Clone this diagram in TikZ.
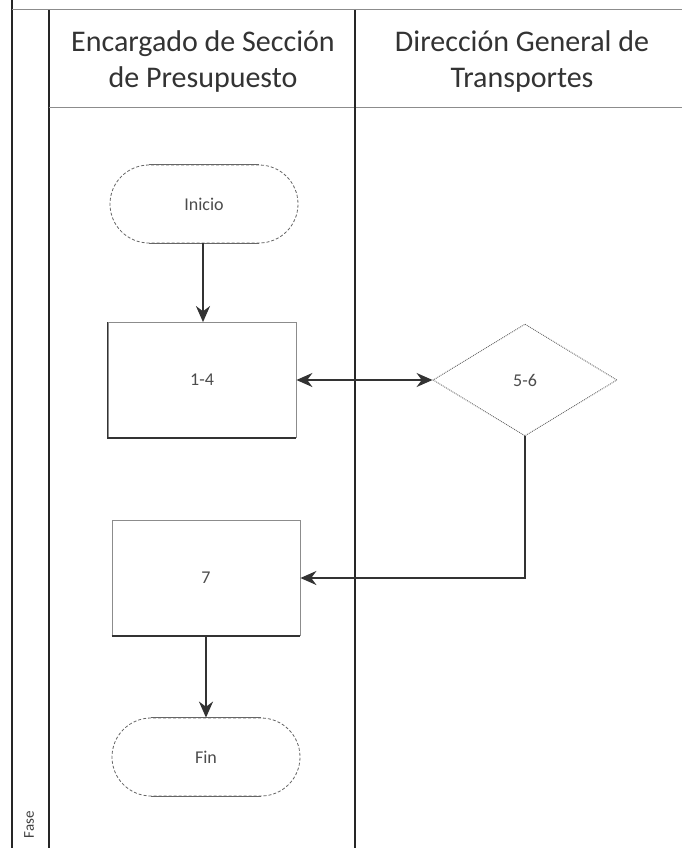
\documentclass[tikz,border=0pt]{standalone}
\usepackage{fontspec}
\setmainfont{Carlito}
\usetikzlibrary{shapes.geometric,arrows.meta}
\begin{document}
\begin{tikzpicture}[x=1pt,y=-1pt,
  lane/.style={line width=1.4pt,black!85},
  hline/.style={line width=1pt,black!45},
  terminal/.style={rectangle,rounded corners=39pt,minimum width=188pt,minimum height=78pt,inner sep=0pt,draw=black!60,densely dashed,line width=0.8pt,font=\fontsize{18}{21}\selectfont,text=black!70},
  procbox/.style={rectangle,minimum width=188pt,minimum height=115pt,inner sep=0pt,draw=black!45,line width=0.8pt,font=\fontsize{18}{21}\selectfont,text=black!70},
  decision/.style={diamond,minimum width=184pt,minimum height=112pt,aspect=1.64,inner sep=0pt,draw=black!60,densely dotted,line width=0.9pt,font=\fontsize{18}{21}\selectfont,text=black!70},
  header/.style={align=center,font=\fontsize{30}{36}\selectfont,text=black!80},
  flow/.style={line width=1.7pt,black!80,-{Stealth[length=16pt,width=14pt]}},
  solidedge/.style={line width=0.9pt,black!60},
  darkedge/.style={line width=1.5pt,black!80}
]
\useasboundingbox (0,0) rectangle (682,848);
\fill[white] (0,0) rectangle (682,848);
% lanes
\draw[lane] (12,0) -- (12,848);
\draw[lane] (49,10) -- (49,848);
\draw[hline] (12,10) -- (682,10);
\draw[hline] (49,108) -- (682,108);
\draw[lane,line width=1.2pt] (355,10) -- (355,848);
\node[header] (h1) at (203,62) {Encargado de Sección\\de Presupuesto};
\node[header] (h2) at (522,62) {Dirección General de\\Transportes};
\begin{scope}
\clip (12,790) rectangle (49,848);
\node[rotate=90,font=\fontsize{15}{17}\selectfont,text=black!75,anchor=west] (fase) at (29,842) {Fase};
\end{scope}
% nodes
\node[terminal] (ini) at (204,204) {Inicio};
\node[procbox] (p14) at (202,380) {1-4};
\node[decision] (d56) at (525,380) {5-6};
\node[procbox] (p7) at (206,578) {7};
\node[terminal] (fin) at (206,757) {Fin};
% solid straight edges of terminals
\draw[solidedge] ([xshift=39pt]ini.north west) -- ([xshift=-39pt]ini.north east);
\draw[solidedge] ([xshift=39pt]ini.south west) -- ([xshift=-39pt]ini.south east);
\draw[solidedge] ([xshift=39pt]fin.north west) -- ([xshift=-39pt]fin.north east);
\draw[solidedge] ([xshift=39pt]fin.south west) -- ([xshift=-39pt]fin.south east);
% darker edges of boxes
\draw[darkedge] (p14.north west) -- (p14.south west) -- (p14.south east);
\draw[darkedge] (p7.south west) -- (p7.south east);
% connectors
\draw[flow] ([xshift=-1pt]ini.south) -- ([xshift=-1pt]ini.south |- p14.north);
\draw[flow,{Stealth[length=16pt,width=14pt]}-{Stealth[length=16pt,width=14pt]}] (p14.east) -- (d56.west);
\draw[flow] (d56.south) |- (p7.east);
\draw[flow] (p7.south) -- (fin.north);
\end{tikzpicture}
\end{document}
